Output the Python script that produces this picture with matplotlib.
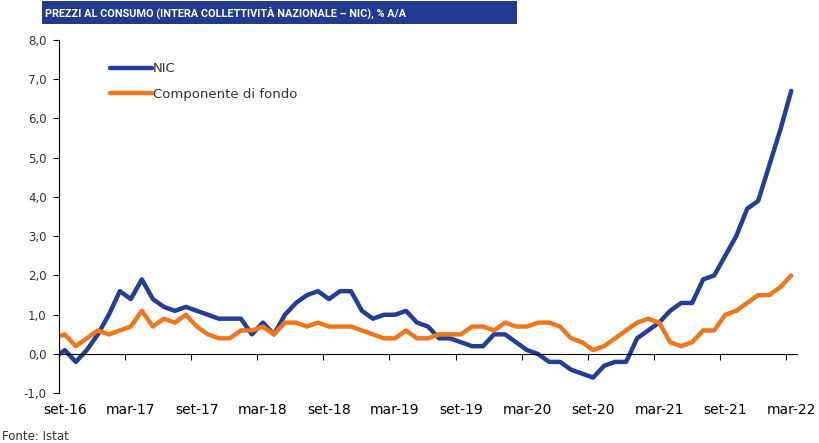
import numpy as np
import matplotlib.pyplot as plt
from matplotlib.patches import Rectangle

# mesi da ago-16 a mar-22 (ago-16 resta tagliato dal bordo sinistro)
mesi = ['gen', 'feb', 'mar', 'apr', 'mag', 'giu', 'lug', 'ago', 'set', 'ott', 'nov', 'dic']
periodo = [f'{m}-{a}' for a in range(16, 23) for m in mesi]
periodo = periodo[periodo.index('ago-16'):periodo.index('mar-22') + 1]

# NIC, % a/a
nic = [-0.1,
       0.1, -0.2, 0.1, 0.5,
       1.0, 1.6, 1.4, 1.9, 1.4, 1.2, 1.1, 1.2, 1.1, 1.0, 0.9, 0.9,
       0.9, 0.5, 0.8, 0.5, 1.0, 1.3, 1.5, 1.6, 1.4, 1.6, 1.6, 1.1,
       0.9, 1.0, 1.0, 1.1, 0.8, 0.7, 0.4, 0.4, 0.3, 0.2, 0.2, 0.5,
       0.5, 0.3, 0.1, 0.0, -0.2, -0.2, -0.4, -0.5, -0.6, -0.3, -0.2, -0.2,
       0.4, 0.6, 0.8, 1.1, 1.3, 1.3, 1.9, 2.0, 2.5, 3.0, 3.7, 3.9,
       4.8, 5.7, 6.7]

# componente di fondo, % a/a
fondo = [0.4,
         0.5, 0.2, 0.4, 0.6,
         0.5, 0.6, 0.7, 1.1, 0.7, 0.9, 0.8, 1.0, 0.7, 0.5, 0.4, 0.4,
         0.6, 0.6, 0.7, 0.5, 0.8, 0.8, 0.7, 0.8, 0.7, 0.7, 0.7, 0.6,
         0.5, 0.4, 0.4, 0.6, 0.4, 0.4, 0.5, 0.5, 0.5, 0.7, 0.7, 0.6,
         0.8, 0.7, 0.7, 0.8, 0.8, 0.7, 0.4, 0.3, 0.1, 0.2, 0.4, 0.6,
         0.8, 0.9, 0.8, 0.3, 0.2, 0.3, 0.6, 0.6, 1.0, 1.1, 1.3, 1.5,
         1.5, 1.7, 2.0]

blu = '#243d99'
arancio = '#f0761a'
grigio = '#333333'

fig = plt.figure(figsize=(8.19, 4.43), dpi=100)
ax = fig.add_axes([0.0724, 0.1122, 0.9004, 0.7978])

x = np.arange(len(periodo))
ax.plot(x, nic, color=blu, lw=3.2, solid_capstyle='round', solid_joinstyle='round', label='NIC')
ax.plot(x, fondo, color=arancio, lw=3.2, solid_capstyle='round', solid_joinstyle='round',
        label='Componente di fondo')

ax.set_xlim(0.5, len(periodo) - 0.5)
ax.set_ylim(-1, 8)

# asse y
yt = np.arange(-1, 8.1, 1)
ax.set_yticks(yt)
ax.set_yticklabels([f'{v:.1f}'.replace('.', ',') for v in yt], fontsize=8.5, color=grigio)
ax.tick_params(axis='y', direction='out', length=4, width=0.8, pad=5)

# asse x: tacche tra le categorie, etichette sul mese
sel = [i for i, p in enumerate(periodo) if p[:3] in ('set', 'mar') and i > 0]
ax.set_xticks([i - 0.5 for i in sel])
ax.set_xticklabels([])
ax.set_xticks(sel, minor=True)
ax.set_xticklabels([periodo[i] for i in sel], minor=True, fontsize=8.5, color=grigio)
ax.tick_params(axis='x', which='major', direction='out', length=4, width=0.8)
ax.tick_params(axis='x', which='minor', length=0, pad=35)

ax.spines['bottom'].set_position(('data', 0))
ax.spines['top'].set_visible(False)
ax.spines['right'].set_visible(False)
for s in ('left', 'bottom'):
    ax.spines[s].set_linewidth(0.8)

leg = ax.legend(loc='upper left', bbox_to_anchor=(0.052, 0.97), frameon=False, fontsize=9.5,
                handlelength=3.2, handletextpad=0.1, labelspacing=0.95)
for t in leg.get_texts():
    t.set_color(grigio)

# titolo nella barra blu
fig.patches.append(Rectangle((42 / 819, 1 - 23.5 / 443), (517 - 42) / 819, 22 / 443,
                             transform=fig.transFigure, facecolor='#213a8f', edgecolor='none'))
fig.text(45 / 819, 1 - 12.5 / 443,
         'PREZZI AL CONSUMO (INTERA COLLETTIVITÀ NAZIONALE – NIC), % A/A',
         color='white', fontsize=7.8, fontweight='bold', va='center', ha='left',
         family=['Roboto', 'DejaVu Sans'])

fig.text(2 / 819, 1 - 437 / 443, 'Fonte: Istat', fontsize=8.5, color=grigio, va='center', ha='left')

fig.savefig('out.png', dpi=100)
